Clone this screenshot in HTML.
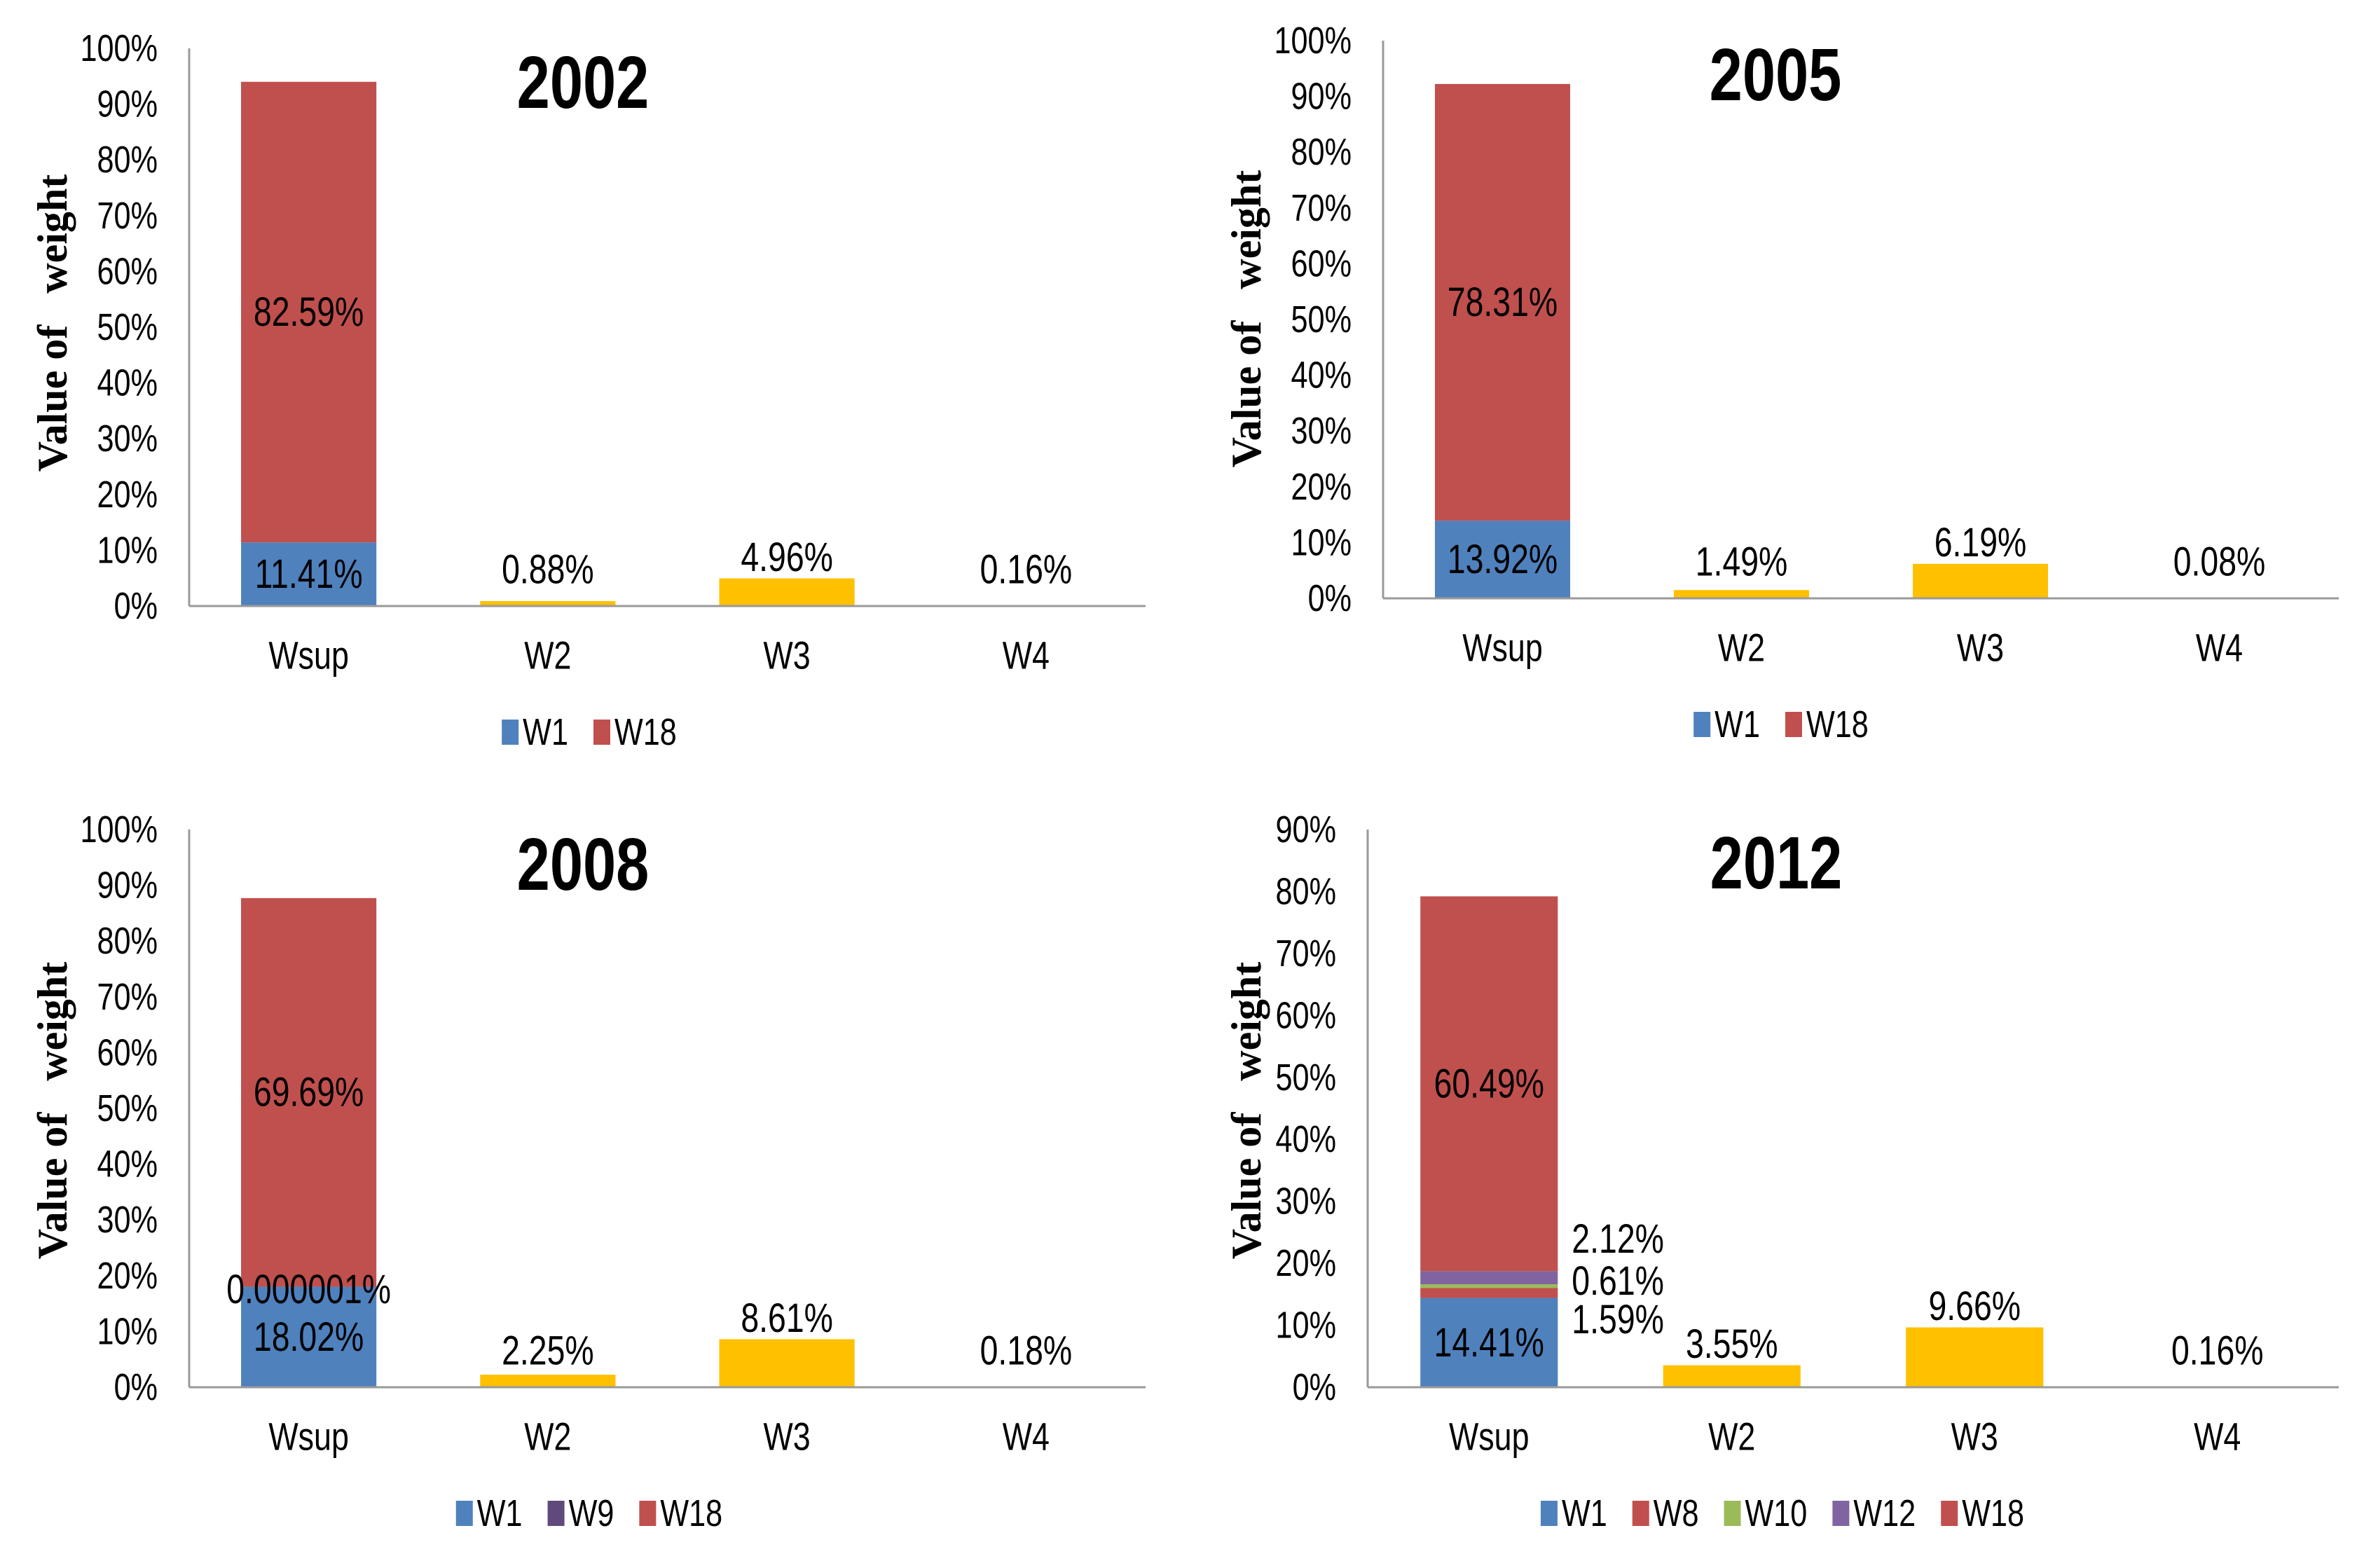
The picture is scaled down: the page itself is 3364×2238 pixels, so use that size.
<!DOCTYPE html>
<html><head><meta charset="utf-8">
<style>
html,body{margin:0;padding:0;background:#fff;}
svg{display:block;}
text{font-family:"Liberation Sans Narrow","Liberation Sans",sans-serif;fill:#000;}
.yt{font-family:"Liberation Serif",serif;font-weight:bold;white-space:pre;}
</style></head>
<body>
<svg id="fig" width="3364" height="2238" viewBox="0 0 3364 2238" xmlns="http://www.w3.org/2000/svg"></svg>
<script>
// ---- data ----
const categories = ["Wsup","W2","W3","W4"];
const titles = ["2002","2005","2008","2012"];
const stackNames2002 = ["W1","W18"];
const stackVals2002 = [11.41, 82.59];
const otherVals2002 = [0.88, 4.96, 0.16];
const stackNames2005 = ["W1","W18"];
const stackVals2005 = [13.92, 78.31];
const otherVals2005 = [1.49, 6.19, 0.08];
const stackNames2008 = ["W1","W9","W18"];
const stackVals2008 = [18.02, 0.000001, 69.69];
const otherVals2008 = [2.25, 8.61, 0.18];
const stackNames2012 = ["W1","W8","W10","W12","W18"];
const stackVals2012 = [14.41, 1.59, 0.61, 2.12, 60.49];
const otherVals2012 = [3.55, 9.66, 0.16];
const yTicks100 = [0,10,20,30,40,50,60,70,80,90,100];
const yTicks90 = [0,10,20,30,40,50,60,70,80,90];

const colors = {W1:"#4F81BD",W18:"#C0504D",W8:"#C0504D",W9:"#604A7B",W10:"#9BBB59",W12:"#8064A2"};
const NS="http://www.w3.org/2000/svg";
const svg=document.getElementById('fig');
const COND=0.8;
function mk(tag,attrs,parent,txt){const e=document.createElementNS(NS,tag);for(const k in attrs)e.setAttribute(k,attrs[k]);if(txt!==undefined)e.textContent=txt;(parent||svg).appendChild(e);return e;}
function cond(t){const w=t.getComputedTextLength();t.setAttribute('textLength',(w*COND).toFixed(1));t.setAttribute('lengthAdjust','spacingAndGlyphs');return w*COND;}

function drawChart(cfg){
  const g=mk('g',{});
  
  
  const yMax=cfg.ticks[cfg.ticks.length-1];
  const y=v=>cfg.y0-(v/yMax)*(cfg.y0-cfg.yTop);
  const cw=(cfg.xEnd-cfg.x0)/categories.length;
  const bw=cw*0.566;
  const cx=i=>cfg.x0+cw*(i+0.5);
  cfg.ticks.forEach(t=>{
    const tl=mk('text',{x:cfg.x0-45,y:y(t),'text-anchor':'end','dominant-baseline':'central','font-size':54},g,t+'%');
    
    
    cond(tl);
  });
  let cum=0;
  cfg.stackVals.forEach((v,k)=>{
    const name=cfg.stackNames[k];
    const r=mk('rect',{x:cx(0)-bw/2,y:y(cum+v),width:bw,height:Math.max(0,y(cum)-y(cum+v)),fill:colors[name]},g);
    
    
    cum+=v;
  });
  cfg.otherVals.forEach((v,k)=>{
    const r=mk('rect',{x:cx(k+1)-bw/2,y:y(v),width:bw,height:y(0)-y(v),fill:"#FFC000"},g);
    
    
    const ly=Math.min(cfg.y0-52,y(v)-30);
    const l=mk('text',{x:cx(k+1),y:ly,'text-anchor':'middle','dominant-baseline':'central','font-size':58},g,v.toFixed(2)+'%');
    
    
    cond(l);
  });
  cfg.stackLabels(g,y,cx(0),bw);
  const ax=mk('line',{x1:cfg.x0,y1:cfg.yTop,x2:cfg.x0,y2:cfg.y0,stroke:"#9a9a9a",'stroke-width':3},g);
  
  
  const bx=mk('line',{x1:cfg.x0,y1:cfg.y0,x2:cfg.xEnd,y2:cfg.y0,stroke:"#9a9a9a",'stroke-width':3},g);
  
  
  categories.forEach((c,i)=>{
    const t=mk('text',{x:cx(i),y:cfg.y0+70,'text-anchor':'middle','dominant-baseline':'central','font-size':56},g,c);
    
    
    cond(t);
  });
  const ti=mk('text',{x:cfg.tx,y:cfg.ty,'text-anchor':'middle','dominant-baseline':'central','font-size':106,'font-weight':'bold'},g,cfg.title);
  
  
  cond(ti);
  const yt=mk('text',{x:0,y:0,'text-anchor':'middle','dominant-baseline':'central','font-size':60,'class':'yt',transform:`translate(${cfg.ytx},${cfg.yty}) rotate(-90)`},g,'Value of   weight');
  
  
  const items=cfg.stackNames;
  const le=[];let total=0;
  items.forEach((n,k)=>{
    const eg=mk('g',{},g);
    
    
    const r=mk('rect',{x:0,y:cfg.ly-18,width:24,height:36,fill:colors[n]},eg);
    const t=mk('text',{x:0,y:cfg.ly,'dominant-baseline':'central','font-size':54},eg,n);
    const w=cond(t);
    le.push([r,t,w]);
    total+=30+w+(k<items.length-1?36:0);
  });
  let lx=cfg.lx-total/2;
  le.forEach(([r,t,w])=>{r.setAttribute('x',lx);t.setAttribute('x',lx+30);lx+=30+w+36;});
}

function midLabel(g,x,yy,txt,anchor){
  const t=mk('text',{x:x,y:yy,'text-anchor':anchor||'middle','dominant-baseline':'central','font-size':58},g,txt);
  
  
  cond(t);
}
function simpleStack(vals){
  return (g,y,x)=>{let c=0;vals.forEach(v=>{midLabel(g,x,y(c+v/2),v.toFixed(2)+'%');c+=v;});};
}

drawChart({title:titles[0],x0:270,yTop:69,y0:865,xEnd:1635,ticks:yTicks100,stackNames:stackNames2002,stackVals:stackVals2002,otherVals:otherVals2002,tx:832,ty:118,ytx:75,yty:461,lx:841,ly:1045,stackLabels:simpleStack(stackVals2002)});
drawChart({title:titles[1],x0:1974,yTop:58,y0:854,xEnd:3338,ticks:yTicks100,stackNames:stackNames2005,stackVals:stackVals2005,otherVals:otherVals2005,tx:2534,ty:107,ytx:1779,yty:455,lx:2542,ly:1034,stackLabels:simpleStack(stackVals2005)});
drawChart({title:titles[2],x0:270,yTop:1184,y0:1980,xEnd:1635,ticks:yTicks100,stackNames:stackNames2008,stackVals:stackVals2008,otherVals:otherVals2008,tx:832,ty:1234,ytx:75,yty:1585,lx:841,ly:2160,
  stackLabels:(g,y,x)=>{const v=stackVals2008;midLabel(g,x,y(v[0]/2),v[0].toFixed(2)+'%');midLabel(g,x,y(v[0])+4,'0.000001%');midLabel(g,x,y(v[0]+v[1]+v[2]/2),v[2].toFixed(2)+'%');}});
drawChart({title:titles[3],x0:1952,yTop:1184,y0:1980,xEnd:3338,ticks:yTicks90,stackNames:stackNames2012,stackVals:stackVals2012,otherVals:otherVals2012,tx:2535,ty:1232,ytx:1779,yty:1585,lx:2544,ly:2160,
  stackLabels:(g,y,x,bw)=>{const v=stackVals2012;midLabel(g,x,y(v[0]/2),v[0].toFixed(2)+'%');
    const top=y(v[0]+v[1]+v[2]+v[3]);const lx=x+bw/2+20;
    midLabel(g,lx,top-46,v[3].toFixed(2)+'%','start');midLabel(g,lx,top+14,v[2].toFixed(2)+'%','start');midLabel(g,lx,top+69,v[1].toFixed(2)+'%','start');
    const c=y(v[0]+v[1]+v[2]+v[3]+v[4]/2);midLabel(g,x,c,v[4].toFixed(2)+'%');}});
</script>
</body></html>
